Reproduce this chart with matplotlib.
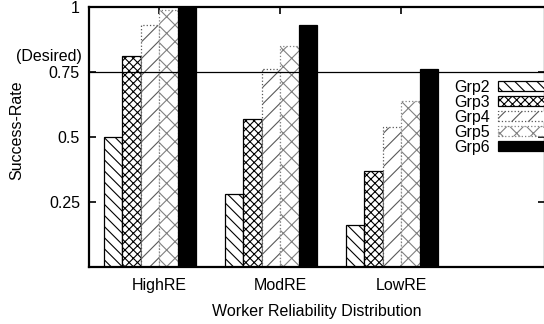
import matplotlib
matplotlib.use("Agg")
import matplotlib.pyplot as plt
import numpy as np

plt.rcParams['font.family'] = ['Liberation Sans', 'DejaVu Sans']
plt.rcParams['hatch.linewidth'] = 0.8

# data
groups = ['HighRE', 'ModRE', 'LowRE']
series = ['Grp2', 'Grp3', 'Grp4', 'Grp5', 'Grp6']
grp2 = [0.50, 0.28, 0.16]
grp3 = [0.81, 0.57, 0.37]
grp4 = [0.93, 0.76, 0.54]
grp5 = [0.99, 0.85, 0.64]
grp6 = [1.00, 0.93, 0.76]
desired = 0.75

values = [grp2, grp3, grp4, grp5, grp6]
styles = [
    dict(facecolor='white', edgecolor='black', hatch='\\\\\\', linestyle='-'),
    dict(facecolor='white', edgecolor='black', hatch='xxxx', linestyle='-'),
    dict(facecolor='white', edgecolor='0.35', hatch='//', linestyle=':'),
    dict(facecolor='white', edgecolor='0.5', hatch='xx', linestyle=':'),
    dict(facecolor='black', edgecolor='black', hatch=None, linestyle='-'),
]

FS = 11.5

fig = plt.figure(figsize=(5.44, 3.24), dpi=100)
ax = fig.add_axes([89 / 544, 57 / 324, 456 / 544, 260 / 324])

x = np.arange(len(groups))
w = 0.152
start = -0.455
for k, (name, vals, st) in enumerate(zip(series, values, styles)):
    ax.bar(x + start + k * w, vals, w, align='edge', label=name,
           linewidth=0.9, zorder=2, **st)

ax.axhline(desired, color='black', lw=0.9, zorder=3)

ax.set_xlim(-0.579, 3.19)
ax.set_ylim(0, 1)
ax.set_xticks(x)
ax.set_xticklabels(groups)
ax.set_yticks([0.25, 0.5, 0.75, 1.0])
ax.set_yticklabels(['0.25', '0.5', '0.75', '1'])
ax.tick_params(direction='in', length=5, width=1.2, top=True, right=True,
               labelsize=FS)
ax.tick_params(axis='y', pad=6.5)
ax.tick_params(axis='x', pad=8)
ax.text(-0.015, 0.808, '(Desired)', transform=ax.get_yaxis_transform(),
        ha='right', va='center', fontsize=FS)

for s in ax.spines.values():
    s.set_linewidth(1.6)

ax.set_xlabel('Worker Reliability Distribution', fontsize=FS, labelpad=8)
ax.set_ylabel('Success-Rate', fontsize=FS)
ax.yaxis.set_label_coords(-0.143, 0.525)

ax.legend(loc='upper left', bbox_to_anchor=(0.80, 0.72), frameon=False,
          markerfirst=False, fontsize=FS, handlelength=3.4, handleheight=0.55,
          handletextpad=0.55, labelspacing=0.0, borderpad=0, borderaxespad=0)

fig.savefig('out.png', dpi=100)
